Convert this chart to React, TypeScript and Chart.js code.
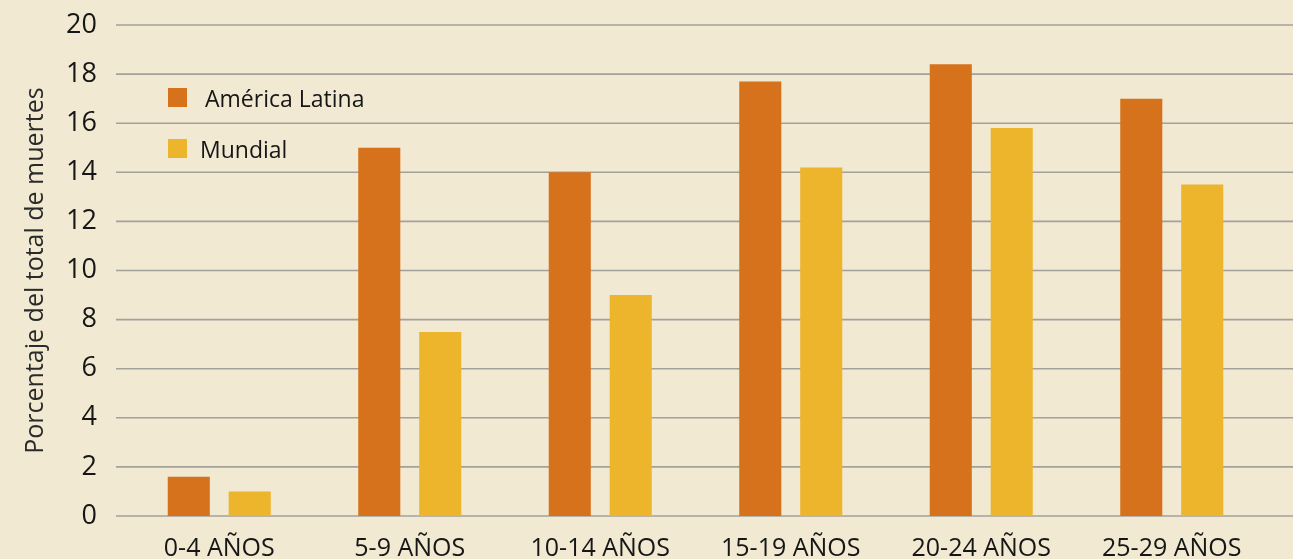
import React, { useEffect, useRef } from "react";
import { Chart, registerables } from "chart.js";

Chart.register(...registerables);

const categories = ["0-4 AÑOS", "5-9 AÑOS", "10-14 AÑOS", "15-19 AÑOS", "20-24 AÑOS", "25-29 AÑOS"];
const americaLatina = [1.6, 15.0, 14.0, 17.7, 18.4, 17.0];
const mundial = [1.0, 7.5, 9.0, 14.2, 15.8, 13.5];
const seriesNames = ["América Latina", "Mundial"];
const yTicks = [0, 2, 4, 6, 8, 10, 12, 14, 16, 18, 20];
const yTitle = "Porcentaje del total de muertes";

const BG = "#F1E9D2";
const ORANGE = "#D6711C";
const YELLOW = "#EDB52C";
const GRID = "#A3A19A";
const TEXT = "#161616";
const FONT = "'Open Sans', 'Noto Sans', sans-serif";

const W = 1293;
const H = 559;

export default function App() {
  const ref = useRef<HTMLCanvasElement | null>(null);

  useEffect(() => {
    if (!ref.current) return;

    const bgPlugin = {
      id: "bg",
      beforeDraw(chart: any) {
        const ctx = chart.ctx;
        ctx.save();
        ctx.fillStyle = BG;
        ctx.fillRect(0, 0, chart.width, chart.height);
        ctx.restore();
      },
    };

    const gridPlugin = {
      id: "fullGrid",
      beforeDatasetsDraw(chart: any) {
        const ctx = chart.ctx;
        const y = chart.scales.y;
        ctx.save();
        ctx.strokeStyle = GRID;
        ctx.lineWidth = 1.6;
        y.ticks.forEach((t: any) => {
          const py = y.getPixelForValue(t.value);
          ctx.beginPath();
          ctx.moveTo(116, py);
          ctx.lineTo(chart.width, py);
          ctx.stroke();
        });
        ctx.restore();
      },
    };

    const legendPlugin = {
      id: "customLegend",
      afterDatasetsDraw(chart: any) {
        const ctx = chart.ctx;
        ctx.save();
        ctx.font = `23px ${FONT}`;
        ctx.textBaseline = "middle";
        ctx.textAlign = "left";
        chart.data.datasets.forEach((ds: any, i: number) => {
          const top = 88 + i * 51;
          ctx.fillStyle = ds.backgroundColor;
          ctx.fillRect(168, top, 19, 19);
          ctx.fillStyle = TEXT;
          ctx.fillText(ds.label, i === 0 ? 205 : 200, top + 12);
        });
        ctx.restore();
      },
    };

    const chart = new Chart(ref.current, {
      type: "bar",
      data: {
        labels: categories,
        datasets: [
          {
            label: seriesNames[0],
            data: americaLatina,
            backgroundColor: ORANGE,
            categoryPercentage: 0.64,
            barPercentage: 0.69,
          },
          {
            label: seriesNames[1],
            data: mundial,
            backgroundColor: YELLOW,
            categoryPercentage: 0.64,
            barPercentage: 0.69,
          },
        ],
      },
      options: {
        responsive: false,
        animation: false,
        layout: { padding: { top: 25, right: 26, bottom: 0, left: 0 } },
        plugins: {
          legend: { display: false },
          tooltip: { enabled: false },
        },
        scales: {
          x: {
            grid: { display: false, drawTicks: false },
            border: { display: false },
            ticks: {
              color: TEXT,
              font: { family: FONT, size: 25 },
              padding: 18,
              maxRotation: 0,
              autoSkip: false,
            },
            afterFit: (s: any) => {
              s.height = 43;
              s.paddingLeft = 0;
              s.paddingRight = 0;
            },
          },
          y: {
            min: 0,
            max: 20,
            grid: { display: false, drawTicks: false },
            border: { display: false },
            afterBuildTicks: (s: any) => {
              s.ticks = yTicks.map((v) => ({ value: v }));
            },
            ticks: {
              color: TEXT,
              font: { family: FONT, size: 27 },
              padding: 27,
            },
            title: {
              display: true,
              text: yTitle,
              color: "#2a2a2a",
              font: { family: FONT, size: 25 },
              padding: { top: 21, bottom: 0 },
            },
            afterFit: (s: any) => {
              s.width = 124;
              s.paddingTop = 0;
              s.paddingBottom = 0;
            },
          },
        },
      },
      plugins: [bgPlugin, gridPlugin, legendPlugin],
    });

    return () => chart.destroy();
  }, []);

  return (
    <div style={{ position: "fixed", left: 0, top: 0, width: W, height: H, background: BG }}>
      <canvas ref={ref} width={W} height={H} style={{ display: "block", width: W, height: H }} />
    </div>
  );
}
